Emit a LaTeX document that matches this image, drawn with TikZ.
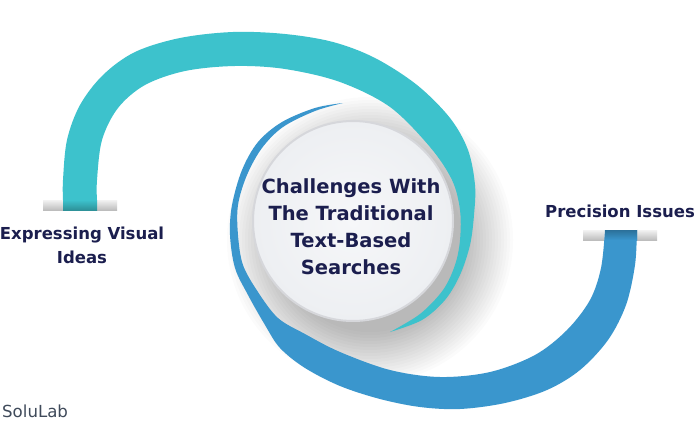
\documentclass[tikz,border=0pt]{standalone}
\usepackage{fontspec}
\setmainfont{DejaVu Sans}
\definecolor{tealband}{HTML}{3DC2CC}
\definecolor{blueband}{HTML}{3A96CD}
\definecolor{navy}{HTML}{1B1E4E}
\definecolor{slate}{HTML}{3F4A5A}
\definecolor{disclight}{HTML}{F6F7F9}
\definecolor{discdark}{HTML}{EDEFF2}
\definecolor{discedge}{HTML}{D6D7DB}
\definecolor{shelftop}{HTML}{F2F2F2}
\definecolor{shelfbot}{HTML}{BDBDBD}
\tikzset{
  shelf/.style={top color=shelftop, bottom color=shelfbot, draw=none},
  bandsmooth/.style={smooth, tension=0.55},
  hubdisc/.style={circle, inner sep=0pt, minimum size=200pt, draw=discedge, line width=2pt,
    inner color=disclight, outer color=discdark},
  hubtext/.style={align=center, text=navy, font=\fontsize{19.5}{27}\selectfont\bfseries},
  sidetext/.style={align=center, text=navy, font=\fontsize{16.5}{24}\selectfont\bfseries},
  brand/.style={anchor=west, text=slate, font=\fontsize{16.6}{20}\selectfont},
  softshade/.style={fill=black, opacity=0.016}
}
\begin{document}
\begin{tikzpicture}[x=1pt,y=-1pt]
\useasboundingbox (0,0) rectangle (700,441);
\fill[white] (0,0) rectangle (700,441);

% soft shadow of the central disc (behind the bands)
\foreach \k in {0,...,17}
  \fill[softshade] (370,240) circle ({92+3*\k});

% gray shelves
\shade[shelf] (43,200) rectangle (117,210);
\shade[shelf] (583,230) rectangle (657,240);

% teal band
\fill[tealband] plot[bandsmooth] coordinates {(63,200) (63,180) (67,140) (80,105) (103,75) (135,52) (180,38) (233,32) (285,34) (333,42) (375,58) (417,85) (450,118) (468,150) (475,185) (474,215) (470,245) (460,275) (445,300) (422,320) (390,332)}
  -- plot[bandsmooth] coordinates {(390,332) (420,314) (443,290) (455,265) (460,240) (460,210) (452,180) (430,147) (390,107) (340,82) (285,69) (235,66) (185,71) (145,85) (118,108) (102,140) (97,180) (97,200)}
  -- cycle;
\shade[top color=tealband, bottom color=tealband!75!black] (63,200) rectangle (97,210);

% blue band
\fill[blueband] plot[bandsmooth] coordinates {(637,240) (637,230) (635,265) (626,305) (608,340) (580,370) (547,390) (505,403) (460,409) (420,407) (380,399) (340,386) (305,368) (280,348) (265,325) (248,295) (235,268) (230,235) (232,205) (242,170) (258,142) (282,122) (315,108) (343,103)}
  -- plot[bandsmooth] coordinates {(343,103) (315,111) (283,127) (262,148) (247,175) (238,205) (238,235) (243,265) (258,292) (278,318) (305,334) (340,352) (390,370) (440,377) (490,372) (535,355) (567,330) (590,300) (601,268) (605,230)}
  -- cycle;
\shade[bottom color=blueband, top color=blueband!75!black] (605,230) rectangle (637,240);

% central disc and its text
\node[hubdisc] (hub) at (353,221) {};
\node[hubtext] (hubtitle) at (351,227) {Challenges With\\The Traditional\\Text-Based\\Searches};

% side labels
\node[sidetext] (visual) at (82,245) {Expressing Visual\\Ideas};
\node[sidetext, anchor=base] (precision) at (620,217) {Precision Issues};

% brand
\node[brand, inner sep=0pt] (solulab) at (2,411) {SoluLab};
\end{tikzpicture}
\end{document}
